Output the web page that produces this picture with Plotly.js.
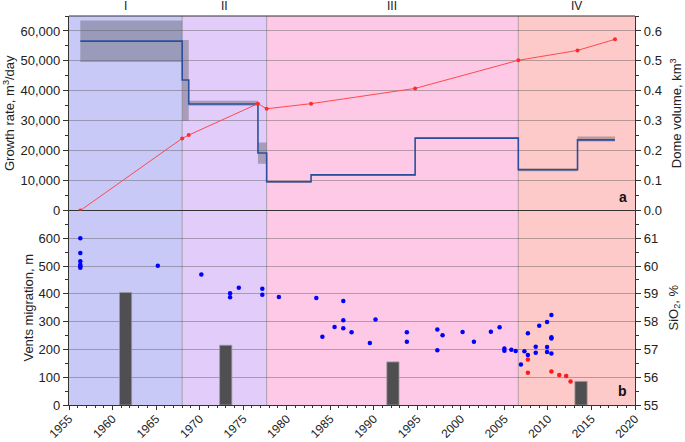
<!DOCTYPE html>
<html><head><meta charset="utf-8">
<script src="https://cdn.plot.ly/plotly-3.0.1.min.js"></script>
<style>html,body{margin:0;padding:0;background:#fff}#chart{width:685px;height:442px}</style>
</head><body><div id="chart"></div>
<script>
// Periods (stage boundaries, years)
const periodNames = ['I', 'II', 'III', 'IV'];
const periodStart = [1955, 1968, 1977.7, 2006.6];
const periodEnd = [1968, 1977.7, 2006.6, 2020];
const periodColors = ['rgb(201,201,248)', 'rgb(226,204,250)', 'rgb(253,201,230)', 'rgb(253,201,201)'];

// Panel a: growth rate (m3/day) step line
const stepYears = [1956.3, 1968, 1968.75, 1976.7, 1977.7, 1982.8, 1994.75, 2006.6, 2013.4, 2017.7];
const growthRate = [56600, 43600, 35600, 19200, 9600, 11900, 24200, 13600, 23600, 23600];
// Growth rate uncertainty boxes
const boxStart = [1956.3, 1968, 1968.75, 1976.7, 1977.7, 1982.8, 1994.75, 2006.6, 2013.4];
const boxEnd = [1968, 1968.75, 1976.7, 1977.7, 1982.8, 1994.75, 2006.6, 2013.4, 2017.7];
const boxLow = [49600, 30000, 35000, 15600, 9200, 11600, 23900, 13100, 23100];
const boxHigh = [63500, 57000, 36700, 22700, 9900, 12200, 24500, 14100, 24700];
// Dome volume (km3)
const volumeYears = [1956.3, 1968, 1968.75, 1976.7, 1977.7, 1982.8, 1994.75, 2006.6, 2013.4, 2017.7];
const domeVolume = [0, 0.241, 0.252, 0.357, 0.340, 0.357, 0.408, 0.502, 0.535, 0.572];

// Panel b: vents migration (m)
const ventYears = [1956.3, 1956.3, 1956.3, 1956.3, 1956.3, 1956.3, 1965.2, 1970.2, 1973.5, 1973.5, 1974.5,
  1977.2, 1977.2, 1979.1, 1983.4, 1984.1, 1985.5, 1986.5, 1986.5, 1986.5, 1987.45, 1989.55, 1990.2,
  1993.8, 1993.8, 1997.3, 1997.3, 1997.9, 2000.2, 2001.5, 2003.45, 2004.45, 2005.0, 2005.0, 2005.8,
  2006.3, 2006.9, 2007.3, 2007.7, 2007.7, 2008.6, 2008.6, 2009.0, 2009.9, 2009.9, 2009.9,
  2010.4, 2010.4, 2010.4, 2010.4];
const ventMigration = [600, 547, 517, 505, 499, 494, 501, 470, 402, 388, 422,
  418, 397, 389, 385, 246, 281, 374, 305, 276, 262, 223, 308,
  262, 228, 272, 197, 251, 263, 228, 264, 280, 203, 195, 199,
  194, 146, 193, 258, 180, 210, 188, 285, 299, 209, 191,
  324, 244, 239, 185];
// SiO2 (%)
const sio2Years = [2007.7, 2007.7, 2010.4, 2011.3, 2012.1, 2012.6];
const sio2Values = [56.64, 56.16, 56.21, 56.08, 56.04, 55.85];
// Bars (m)
const barYears = [1961.5, 1973.0, 1992.2, 2013.8];
const barValues = [405, 215, 155, 85];
const barWidthYears = [1.4, 1.4, 1.4, 1.4];

const xTicks = [1955, 1960, 1965, 1970, 1975, 1980, 1985, 1990, 1995, 2000, 2005, 2010, 2015, 2020];
const growthTicks = [0, 10000, 20000, 30000, 40000, 50000, 60000];
const volumeTicks = [0, 0.1, 0.2, 0.3, 0.4, 0.5, 0.6];
const ventTicks = [0, 100, 200, 300, 400, 500, 600];
const sio2Ticks = [55, 56, 57, 58, 59, 60, 61];

const font = {family: 'Liberation Sans, Arial, sans-serif', size: 13, color: '#222'};
const gridColor = 'rgba(70,70,70,0.38)';

const traces = [
  {type: 'bar', x: boxStart.map((s, i) => (s + boxEnd[i]) / 2), width: boxStart.map((s, i) => boxEnd[i] - s),
   base: boxLow, y: boxHigh.map((h, i) => h - boxLow[i]), xaxis: 'x', yaxis: 'y',
   marker: {color: 'rgba(90,90,100,0.42)', line: {width: 0}}, hoverinfo: 'skip'},
  {type: 'scatter', mode: 'lines', x: stepYears, y: growthRate, line: {shape: 'hv', color: '#2c4f9c', width: 1.6},
   xaxis: 'x', yaxis: 'y'},
  {type: 'scatter', mode: 'lines+markers', x: volumeYears, y: domeVolume, xaxis: 'x', yaxis: 'y2',
   line: {color: '#ff4a4a', width: 1}, marker: {color: '#ff2a2a', size: 4}},
  {type: 'bar', x: barYears, y: barValues, width: barWidthYears, xaxis: 'x', yaxis: 'y3',
   marker: {color: '#4f4f52', line: {color: '#9a9a9a', width: 0.8}}},
  {type: 'scatter', mode: 'markers', x: ventYears, y: ventMigration, xaxis: 'x', yaxis: 'y3',
   marker: {color: '#0000ff', size: 4.5}},
  {type: 'scatter', mode: 'markers', x: sio2Years, y: sio2Values, xaxis: 'x', yaxis: 'y4',
   marker: {color: '#ff1a1a', size: 4.5}}
];

const shapes = [];
periodStart.forEach((s, i) => {
  shapes.push({type: 'rect', xref: 'x', yref: 'paper', x0: s, x1: periodEnd[i], y0: 0, y1: 1,
    fillcolor: periodColors[i], line: {width: 0}, layer: 'below'});
});
periodStart.slice(1).forEach(s => {
  shapes.push({type: 'line', xref: 'x', yref: 'paper', x0: s, x1: s, y0: 0, y1: 1,
    line: {color: 'rgba(90,90,90,0.45)', width: 1}, layer: 'below'});
});
shapes.push({type: 'line', xref: 'paper', yref: 'paper', x0: 0, x1: 1, y0: 1, y1: 1, line: {color: '#333', width: 1.2}});

const annotations = periodNames.map((n, i) => ({
  text: n, xref: 'x', yref: 'paper', x: (periodStart[i] + periodEnd[i]) / 2, y: 1, yanchor: 'middle',
  showarrow: false, font: {family: font.family, size: 12, color: '#222'}, yshift: 10
}));
annotations.push({text: '<b>a</b>', xref: 'paper', yref: 'paper', x: 0.99, y: 0.51, xanchor: 'right', yanchor: 'bottom', showarrow: false, font: {family: font.family, size: 14, color: '#111'}});
annotations.push({text: '<b>b</b>', xref: 'paper', yref: 'paper', x: 0.99, y: 0.01, xanchor: 'right', yanchor: 'bottom', showarrow: false, font: {family: font.family, size: 14, color: '#111'}});

const yCommon = {showline: true, linecolor: '#333', linewidth: 1.2, ticks: 'outside', ticklen: 5, tickcolor: '#333', zeroline: false};

const layout = {
  width: 685, height: 442,
  margin: {l: 69, r: 50, t: 16, b: 37},
  paper_bgcolor: '#fff', plot_bgcolor: 'rgba(0,0,0,0)',
  font: font, showlegend: false, barmode: 'overlay',
  xaxis: {range: [1955, 2020], anchor: 'y3', tickvals: xTicks, tickangle: -45, ticks: 'outside', ticklen: 4,
    tickcolor: '#333', showline: true, linecolor: '#333', linewidth: 1.2, showgrid: false, zeroline: false,
    tickfont: {family: font.family, size: 12, color: '#222'}, ticklabelstandoff: -3,
    minor: {dtick: 1, ticks: 'outside', ticklen: 2, tickcolor: '#333', showgrid: false}},
  yaxis: Object.assign({}, yCommon, {domain: [0.5, 1], range: [0, 65000], tickvals: growthTicks, tickformat: ',d',
    showgrid: true, gridcolor: gridColor, zeroline: true, zerolinecolor: '#333', zerolinewidth: 1.5,
    minor: {dtick: 5000, ticks: 'outside', ticklen: 3, tickcolor: '#333', showgrid: false},
    title: {text: 'Growth rate, m<sup>3</sup>/day', standoff: 2, font: font}}),
  yaxis2: Object.assign({}, yCommon, {overlaying: 'y', side: 'right', anchor: 'x', range: [0, 0.65], tickvals: volumeTicks,
    tickformat: '.1f', showgrid: false,
    minor: {dtick: 0.05, ticks: 'outside', ticklen: 3, tickcolor: '#333', showgrid: false},
    title: {text: 'Dome volume, km<sup>3</sup>', standoff: 11, font: font}}),
  yaxis3: Object.assign({}, yCommon, {domain: [0, 0.5], anchor: 'x', range: [0, 700], tickvals: ventTicks,
    showgrid: true, gridcolor: gridColor,
    minor: {dtick: 50, ticks: 'outside', ticklen: 3, tickcolor: '#333', showgrid: false},
    title: {text: 'Vents migration, m', standoff: 2, font: font}}),
  yaxis4: Object.assign({}, yCommon, {overlaying: 'y3', side: 'right', anchor: 'x', range: [55, 62], tickvals: sio2Ticks,
    showgrid: false,
    minor: {dtick: 0.5, ticks: 'outside', ticklen: 3, tickcolor: '#333', showgrid: false},
    title: {text: 'SiO<sub>2</sub>, %', standoff: 11, font: font}}),
  shapes: shapes,
  annotations: annotations
};

Plotly.newPlot('chart', traces, layout, {staticPlot: true});
</script>
</body></html>
